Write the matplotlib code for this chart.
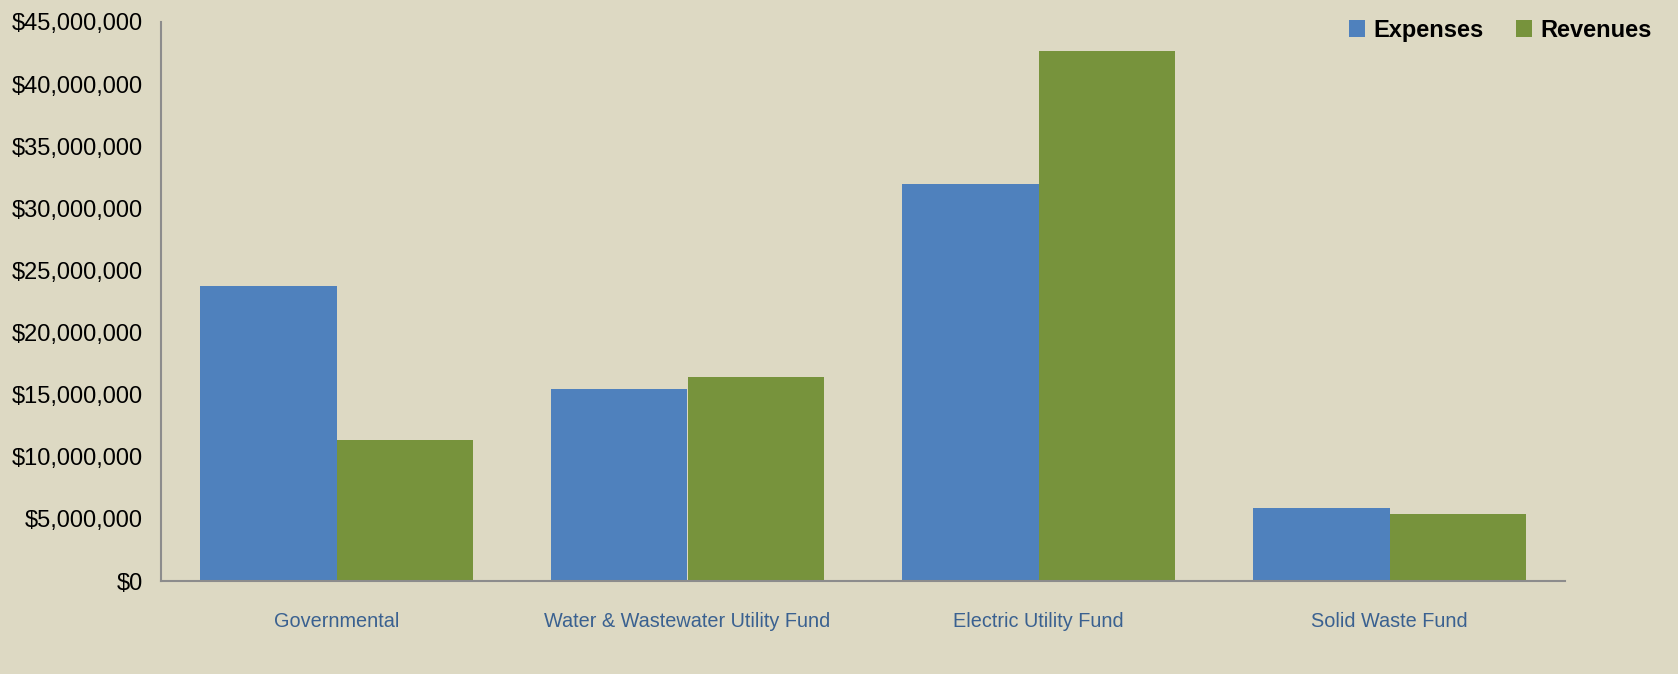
import numpy as np
import matplotlib.pyplot as plt
from matplotlib.ticker import FuncFormatter

categories = ['Governmental', 'Water & Wastewater Utility Fund',
              'Electric Utility Fund', 'Solid Waste Fund']
expenses = [23750000, 15450000, 31950000, 5900000]
revenues = [11350000, 16400000, 42700000, 5400000]

bg = '#DDD9C3'
plt.rcParams['font.family'] = ['Liberation Sans Narrow', 'Liberation Sans', 'DejaVu Sans']

fig = plt.figure(figsize=(16.78, 6.74), dpi=100, facecolor=bg)
ax = fig.add_axes([161/1678, 1-581/674, (1565-161)/1678, (581-22)/674])
ax.set_facecolor(bg)

x = np.arange(len(categories))
w = 0.39
ax.bar(x - w/2, expenses, w, color='#4F81BD', label='Expenses', linewidth=0)
ax.bar(x + w/2, revenues, w, color='#77933C', label='Revenues', linewidth=0)

ax.set_xlim(-0.5, 3.5)
ax.set_ylim(0, 45000000)
ax.set_yticks(np.arange(0, 45000001, 5000000))
ax.yaxis.set_major_formatter(FuncFormatter(lambda v, p: '${:,.0f}'.format(v)))
ax.set_xticks(x)
ax.set_xticklabels(categories, color='#3A6190', fontsize=14.3)
ax.tick_params(axis='x', length=0, pad=22)
ax.tick_params(axis='y', length=0, pad=13, labelsize=17)

for s in ['top', 'right']:
    ax.spines[s].set_visible(False)
for s in ['left', 'bottom']:
    ax.spines[s].set_color('#8C8C8C')
    ax.spines[s].set_linewidth(1.5)

leg = ax.legend(loc='upper right', bbox_to_anchor=(0.997, 1.004), bbox_transform=fig.transFigure,
                ncol=2, frameon=False, handlelength=0.7, handleheight=0.7,
                handletextpad=0.35, columnspacing=1.35, prop={'weight': 'bold', 'size': 17})

fig.savefig('out.png', dpi=100, facecolor=bg)
